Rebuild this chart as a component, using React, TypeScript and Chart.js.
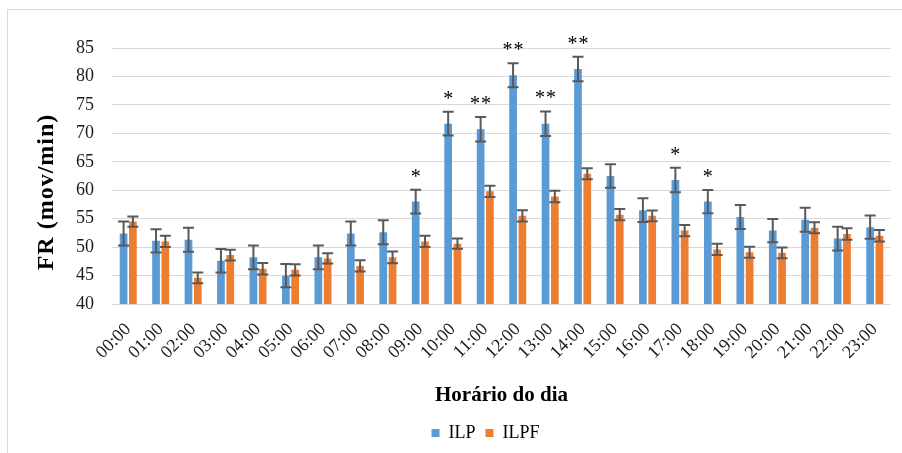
import React, { useEffect, useRef } from "react";
import { Chart, registerables } from "chart.js";

Chart.register(...registerables);

const HOURS = [
  "00:00", "01:00", "02:00", "03:00", "04:00", "05:00", "06:00", "07:00",
  "08:00", "09:00", "10:00", "11:00", "12:00", "13:00", "14:00", "15:00",
  "16:00", "17:00", "18:00", "19:00", "20:00", "21:00", "22:00", "23:00",
];

const ILP = [
  52.4, 51.1, 51.3, 47.6, 48.2, 45.0, 48.2, 52.4, 52.6, 58.0, 71.7, 70.7,
  80.2, 71.7, 81.3, 62.5, 56.5, 61.8, 58.0, 55.3, 52.9, 54.8, 51.5, 53.5,
];
const ILP_ERR = [
  2.1, 2.05, 2.1, 2.05, 2.1, 2.05, 2.1, 2.1, 2.1, 2.1, 2.1, 2.15,
  2.1, 2.15, 2.15, 2.05, 2.1, 2.15, 2.05, 2.1, 2.05, 2.1, 2.1, 2.05,
];
const ILPF = [
  54.5, 51.0, 44.6, 48.6, 46.2, 46.0, 48.0, 46.7, 48.2, 51.0, 50.6, 59.8,
  55.5, 58.9, 62.9, 55.7, 55.5, 52.9, 49.6, 49.1, 49.0, 53.4, 52.3, 52.0,
];
const ILPF_ERR = [
  0.9, 1.0, 0.95, 0.95, 1.0, 1.0, 0.9, 1.0, 1.05, 1.0, 0.9, 1.0,
  1.0, 1.0, 0.95, 1.0, 0.95, 1.0, 1.0, 0.95, 0.95, 0.95, 1.0, 1.0,
];
const SIG = [
  "", "", "", "", "", "", "", "", "", "*", "*", "**",
  "**", "**", "**", "", "", "*", "*", "", "", "", "", "",
];

const Y_MIN = 40;
const Y_MAX = 85;
const Y_STEP = 5;

const Y_TITLE = "FR (mov/min)";
const X_TITLE = "Horário do dia";

const SERIF = "'Liberation Serif', 'Times New Roman', serif";

export default function App() {
  const ref = useRef<HTMLCanvasElement>(null);

  useEffect(() => {
    if (!ref.current) return;

    const frame = {
      id: "frame",
      beforeDraw(chart: any) {
        const ctx = chart.ctx;
        ctx.save();
        ctx.fillStyle = "#ffffff";
        ctx.fillRect(0, 0, chart.width, chart.height);
        ctx.strokeStyle = "#d9d9d9";
        ctx.lineWidth = 1;
        ctx.strokeRect(7.5, 9.5, chart.width + 10, chart.height + 10);
        ctx.restore();
      },
    };

    const legendShift = {
      id: "legendShift",
      afterLayout(chart: any) {
        const lg = chart.legend;
        if (lg) {
          lg.left += 40;
          lg.right += 40;
        }
      },
    };

    const yTitle = {
      id: "yTitle",
      afterDraw(chart: any) {
        const ctx = chart.ctx;
        const ys = chart.scales.y;
        ctx.save();
        ctx.translate(ys.left + 47, (ys.top + ys.bottom) / 2 + 16);
        ctx.rotate(-Math.PI / 2);
        ctx.fillStyle = "#000000";
        ctx.font = `bold 24px ${SERIF}`;
        (ctx as any).letterSpacing = "1px";
        ctx.textAlign = "center";
        ctx.textBaseline = "middle";
        ctx.fillText(Y_TITLE, 0, 0);
        ctx.restore();
      },
    };

    const errBars = {
      id: "errBars",
      afterDatasetsDraw(chart: any) {
        const ctx = chart.ctx;
        const ys = chart.scales.y;
        const errs = [ILP_ERR, ILPF_ERR];
        ctx.save();
        ctx.strokeStyle = "#595959";
        ctx.lineWidth = 2;
        errs.forEach((errArr, di) => {
          const meta = chart.getDatasetMeta(di);
          const vals = chart.data.datasets[di].data as number[];
          meta.data.forEach((bar: any, i: number) => {
            const v = vals[i];
            const e = errArr[i];
            const x = bar.x;
            const yt = ys.getPixelForValue(v + e);
            const yb = ys.getPixelForValue(v - e);
            ctx.beginPath();
            ctx.moveTo(x, yt);
            ctx.lineTo(x, yb);
            ctx.moveTo(x - 5.5, yt);
            ctx.lineTo(x + 5.5, yt);
            ctx.moveTo(x - 5.5, yb);
            ctx.lineTo(x + 5.5, yb);
            ctx.stroke();
          });
        });
        // significance markers above ILP bars
        const meta0 = chart.getDatasetMeta(0);
        ctx.fillStyle = "#000000";
        ctx.font = `20px ${SERIF}`;
        ctx.textAlign = "center";
        ctx.textBaseline = "alphabetic";
        SIG.forEach((s, i) => {
          if (!s) return;
          const bar: any = meta0.data[i];
          const yt = ys.getPixelForValue(ILP[i] + ILP_ERR[i]);
          const cy = yt - 18;
          const base = cy + 11;
          if (s.length === 1) {
            ctx.fillText("*", bar.x, base);
          } else {
            ctx.fillText("*", bar.x - 5.5, base);
            ctx.fillText("*", bar.x + 5.5, base);
          }
        });
        ctx.restore();
      },
    };

    const chart = new Chart(ref.current, {
      type: "bar",
      data: {
        labels: HOURS,
        datasets: [
          {
            label: "ILP",
            data: ILP,
            backgroundColor: "#5B9BD5",
            categoryPercentage: 0.573,
            barPercentage: 0.83,
          },
          {
            label: "ILPF",
            data: ILPF,
            backgroundColor: "#ED7D31",
            categoryPercentage: 0.573,
            barPercentage: 0.83,
          },
        ],
      },
      options: {
        responsive: false,
        animation: false,
        devicePixelRatio: 1,
        layout: { padding: { top: 48, right: 11, left: 0, bottom: 1 } },
        plugins: {
          legend: {
            position: "bottom",
            labels: {
              boxWidth: 8,
              boxHeight: 8,
              padding: 10,
              color: "#000000",
              font: { family: SERIF, size: 18 },
            },
          },
          tooltip: { enabled: false },
        },
        scales: {
          x: {
            grid: { display: false },
            border: { display: false },
            ticks: {
              minRotation: 45,
              maxRotation: 45,
              padding: 7,
              color: "#1a1a1a",
              font: { family: SERIF, size: 18 },
              autoSkip: false,
            },
            title: {
              display: true,
              text: X_TITLE,
              color: "#000000",
              font: { family: SERIF, size: 21, weight: "bold" },
              padding: { top: 0, bottom: 6 },
            },
            afterFit(scale: any) {
              scale.height = 110;
            },
          },
          y: {
            min: Y_MIN,
            max: Y_MAX,
            grid: { color: "#d9d9d9", lineWidth: 1, drawTicks: false },
            border: { display: false },
            ticks: {
              stepSize: Y_STEP,
              padding: 18,
              color: "#1a1a1a",
              font: { family: SERIF, size: 18 },
            },
            title: { display: false },
            afterFit(scale: any) {
              scale.width = 112;
            },
          },
        },
      },
      plugins: [frame, legendShift, yTitle, errBars],
    });

    return () => {
      chart.destroy();
    };
  }, []);

  return (
    <div style={{ position: "fixed", left: 0, top: 0, width: 902, height: 453 }}>
      <canvas ref={ref} width={902} height={453} />
    </div>
  );
}
